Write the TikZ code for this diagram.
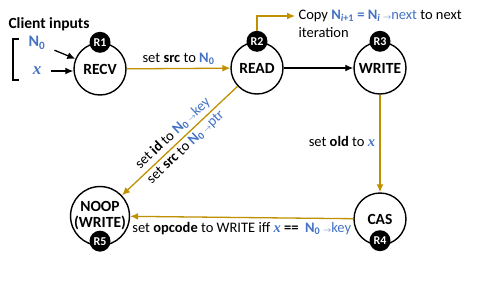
\documentclass[tikz,border=0pt]{standalone}
\usepackage{fontspec}
\setmainfont{Carlito}
\newfontfamily\xfont{Liberation Serif}
\usepackage{xcolor}
\usepackage{tikz}
\usetikzlibrary{arrows,arrows.meta,positioning}

\definecolor{gold}{RGB}{191,144,0}
\definecolor{ptrblue}{RGB}{68,114,196}
\newcommand{\Nz}{\textcolor{ptrblue}{\textbf{N}\textsubscript{\textbf{0}}}}
\newcommand{\xv}{\textcolor{ptrblue}{{\xfont\bfseries\itshape x}}}
\newcommand{\fld}[1]{\textcolor{ptrblue}{\,{\footnotesize$\rightarrow$}#1}}

\begin{document}
\begin{tikzpicture}[
  x=1pt, y=-1pt,
  font=\fontsize{14.5}{17}\selectfont,
  state/.style={circle, draw, line width=1.4pt, minimum size=52pt, inner sep=0pt, align=center, font=\bfseries\fontsize{15.5}{16}\selectfont},
  badge/.style={circle, fill=black, text=white, minimum size=21pt, inner sep=0pt, font=\bfseries\fontsize{12}{12}\selectfont},
  arrow/.style={->, >={Latex[length=8pt,width=7pt]}, line width=1.3pt},
  goldarrow/.style={arrow, draw=gold},
  label/.style={font=\fontsize{14.5}{17}\selectfont}
]
\useasboundingbox (0,0) rectangle (485,284);
% States of the loop
\node[state] (recv) at (100,69) {RECV};
\node[state] (read) at (257,68) {READ};
\node[state] (write) at (380,68) {WRITE};
\node[state] (cas) at (380,219) {CAS};
\node[state] (noop) at (100,216) {NOOP\\(WRITE)};
% Round markers
\node[badge] (r1) at (recv.north) {R1};
\node[badge] (r2) at (read.north) {R2};
\node[badge] (r3) at (write.north) {R3};
\node[badge] (r4) at ([yshift=5pt]cas.south) {R4};
\node[badge] (r5) at ([yshift=5pt]noop.south) {R5};

% Client inputs
\node[label, anchor=west] (client) at (5,24) {\textbf{\fontsize{15.5}{17}\selectfont Client inputs}};
\node[label] (n0) at (37,43) {\fontsize{16}{17}\selectfont\Nz};
\node[label] (xin) at (37,71) {\fontsize{17}{17}\selectfont\xv};
\draw[line width=1.4pt] (19,39) -- (13,39) -- (13,80) -- (19,80);
\draw[arrow, shorten <=6pt] (n0) -- (recv);
\draw[arrow, shorten <=6pt] (xin) -- (xin -| recv.west);

% Transitions
\draw[goldarrow] (recv) -- (read) node[label, midway, above] {set \textbf{src} to \Nz};
\draw[arrow] (read) -- (write);
\draw[goldarrow] (write) -- (cas) node[label, midway, left, xshift=-1pt, yshift=2pt] {set \textbf{old} to \xv};
\draw[goldarrow] (cas) -- (noop) node[label, midway, below, yshift=-1pt] {set \textbf{opcode} to WRITE iff \xv\ \textbf{==}\ \ \Nz\fld{key}};
\draw[goldarrow, <-] (noop) -- (read)
  node[label, midway, above, sloped, inner sep=3pt] {set \textbf{id} to \Nz\fld{key}}
  node[label, midway, below, sloped, inner sep=2.5pt] {set \textbf{src} to \Nz\fld{ptr}};

% Next iteration
\node[label, anchor=west] (copyA) at (295,16) {Copy \textcolor{ptrblue}{\textbf{N}\textsubscript{\textbf{\textit{i}+1}} \textbf{=} \textbf{N}\textsubscript{\textbf{\textit{i}}}}\fld{next} to next};
\node[label, anchor=west] (copyB) at (295,33) {iteration};
\draw[goldarrow] (r2) |- (copyA);
\end{tikzpicture}
\end{document}
